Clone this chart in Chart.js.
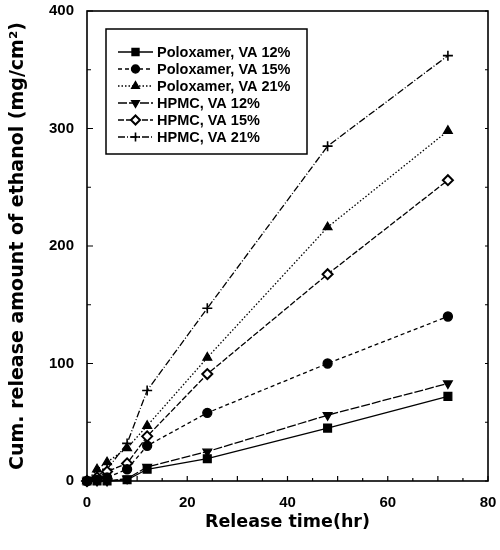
<!DOCTYPE html>
<html>
<head>
<meta charset="utf-8">
<script src="https://cdn.jsdelivr.net/npm/chart.js@4/dist/chart.umd.min.js"></script>
<style>
  html, body { margin: 0; padding: 0; background: #fff; }
  #wrap { width: 500px; height: 550px; }
</style>
</head>
<body>
<div id="wrap"><canvas id="release-chart" width="500" height="550"></canvas></div>
<script>
// release times (hr)
const times = [0, 2, 4, 8, 12, 24, 48, 72];

const labels = [
  'Poloxamer, VA 12%',
  'Poloxamer, VA 15%',
  'Poloxamer, VA 21%',
  'HPMC, VA 12%',
  'HPMC, VA 15%',
  'HPMC, VA 21%',
];

// cumulative release (mg/cm2)
const polo12 = [0, 0, 0, 1, 10, 19, 45, 72];
const polo15 = [0, 1, 3, 10, 30, 58, 100, 140];
const polo21 = [0, 10, 16, 28, 47, 105, 216, 298];
const hpmc12 = [0, 0, 0, 2, 12, 25, 56, 83];
const hpmc15 = [0, 3, 8, 15, 38, 91, 176, 256];
const hpmc21 = [0, 4, 10, 32, 77, 147, 285, 362];

const xTicks = [0, 20, 40, 60, 80];
const yTicks = [0, 100, 200, 300, 400];

const FONT = "'Liberation Sans', Arial, sans-serif";
const TITLE_FONT = "'DejaVu Sans', sans-serif";

function pts(vals) {
  return vals.map((v, i) => ({ x: times[i], y: v }));
}

function series(label, vals, style, dash, fill, extra) {
  return Object.assign({
    label,
    data: pts(vals),
    borderColor: '#000',
    backgroundColor: fill,
    borderWidth: 1.3,
    borderDash: dash,
    pointStyle: style,
    pointRadius: 4.5,
    pointBorderWidth: 1.3,
    pointBorderColor: '#000',
    pointBackgroundColor: fill,
    tension: 0,
    clip: false,
  }, extra || {});
}

const datasets = [
  series(labels[0], polo12, 'rect', [], '#000', { pointRadius: 5.5 }),
  series(labels[1], polo15, 'circle', [4, 3], '#000'),
  series(labels[2], polo21, 'triangle', [1.5, 2], '#000', { pointRadius: 5 }),
  series(labels[3], hpmc12, 'triangle', [9, 2], '#000', { pointRadius: 5, pointRotation: 180 }),
  series(labels[4], hpmc15, 'rectRot', [6, 2], '#fff', { pointRadius: 5, pointBorderWidth: 2 }),
  series(labels[5], hpmc21, 'cross', [7, 2, 1, 2], '#000', { pointRadius: 5, pointBorderWidth: 1.6 }),
];

// frame round the plot + inward ticks
const frameTicks = {
  id: 'frameTicks',
  afterDraw(chart) {
    const { ctx, chartArea: a, scales } = chart;
    ctx.save();
    ctx.strokeStyle = '#000';
    ctx.lineWidth = 1.6;
    ctx.strokeRect(a.left, a.top, a.right - a.left, a.bottom - a.top);
    ctx.lineWidth = 1.2;
    for (let v = 0; v <= 400; v += 50) {
      const y = scales.y.getPixelForValue(v);
      const len = v % 100 === 0 ? 6 : 4;
      ctx.beginPath();
      ctx.moveTo(a.left, y); ctx.lineTo(a.left + len, y);
      ctx.moveTo(a.right, y); ctx.lineTo(a.right - 3, y);
      ctx.stroke();
    }
    for (let v = 0; v <= 80; v += 5) {
      const x = scales.x.getPixelForValue(v);
      const len = v % 10 === 0 ? 5 : 3;
      ctx.beginPath();
      ctx.moveTo(x, a.bottom); ctx.lineTo(x, a.bottom - len);
      ctx.stroke();
    }
    ctx.restore();
  }
};

// legend box inside the plot, upper left
const insideLegend = {
  id: 'insideLegend',
  afterDraw(chart) {
    const { ctx } = chart;
    const box = { l: 106, t: 29, r: 307, b: 154 };
    ctx.save();
    ctx.fillStyle = '#fff';
    ctx.fillRect(box.l, box.t, box.r - box.l, box.b - box.t);
    ctx.strokeStyle = '#000';
    ctx.lineWidth = 1.5;
    ctx.strokeRect(box.l, box.t, box.r - box.l, box.b - box.t);
    ctx.font = `bold 14.5px ${FONT}`;
    ctx.textBaseline = 'middle';
    chart.data.datasets.forEach((ds, i) => {
      const y = 52 + i * 17;
      ctx.strokeStyle = '#000';
      ctx.lineWidth = ds.borderWidth;
      ctx.setLineDash(ds.borderDash);
      ctx.beginPath();
      ctx.moveTo(118, y); ctx.lineTo(153, y);
      ctx.stroke();
      ctx.setLineDash([]);
      ctx.fillStyle = ds.pointBackgroundColor;
      ctx.lineWidth = ds.pointBorderWidth;
      Chart.helpers.drawPoint(ctx, {
        pointStyle: ds.pointStyle,
        rotation: ds.pointRotation || 0,
        radius: ds.pointRadius - 0.5,
        borderWidth: ds.pointBorderWidth,
      }, 135.5, y);
      ctx.fillStyle = '#000';
      ctx.fillText(ds.label, 157, y + 0.5);
    });
    ctx.restore();
  }
};

new Chart(document.getElementById('release-chart'), {
  type: 'line',
  data: { datasets },
  plugins: [frameTicks, insideLegend],
  options: {
    responsive: false,
    animation: false,
    layout: { padding: { top: 11, right: 12, bottom: 0, left: 0 } },
    plugins: {
      legend: { display: false },
      tooltip: { enabled: false },
    },
    scales: {
      x: {
        type: 'linear',
        min: 0,
        max: 80,
        afterBuildTicks: s => { s.ticks = xTicks.map(v => ({ value: v })); },
        afterFit: s => { s.height = 69; s.paddingLeft = 0; s.paddingRight = 0; },
        grid: { display: false, drawTicks: false },
        border: { display: false },
        ticks: { color: '#000', padding: 13, font: { family: FONT, size: 15, weight: 'bold' } },
        title: {
          display: true,
          text: 'Release time(hr)',
          color: '#000',
          font: { family: TITLE_FONT, size: 17.5, weight: 'bold' },
          padding: { top: 0, bottom: 17 },
        },
      },
      y: {
        type: 'linear',
        min: 0,
        max: 400,
        afterBuildTicks: s => { s.ticks = yTicks.map(v => ({ value: v })); },
        afterFit: s => { s.width = 87; s.paddingTop = 0; s.paddingBottom = 0; },
        grid: { display: false, drawTicks: false },
        border: { display: false },
        ticks: { color: '#000', padding: 13, font: { family: FONT, size: 15, weight: 'bold' } },
        title: {
          display: true,
          text: 'Cum. release amount of ethanol (mg/cm²)',
          color: '#000',
          font: { family: TITLE_FONT, size: 19, weight: 'bold' },
          padding: { top: 7, bottom: 0 },
        },
      },
    },
  },
});
</script>
</body>
</html>
